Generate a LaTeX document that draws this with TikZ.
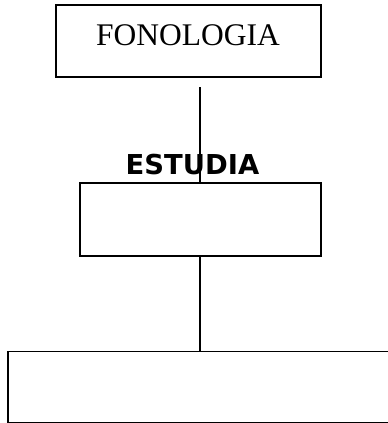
\documentclass[tikz,border=0pt]{standalone}
\usepackage{fontspec}
\setmainfont{Liberation Serif}
\newfontfamily\estfont{DejaVu Sans}
\begin{document}
\begin{tikzpicture}[x=1pt,y=-1pt,
  box/.style={draw,line width=1.8pt,rectangle,inner sep=0pt,outer sep=0pt},
  conn/.style={line width=1.8pt},
  lbl/.style={inner sep=0pt,outer sep=0pt,anchor=base}]
\useasboundingbox (0,0) rectangle (388,423);
\clip (0,0) rectangle (388,423);
\node[box,minimum width=265pt,minimum height=72pt] (a) at (188.5,41) {};
\node[lbl,font=\fontsize{31.5}{36}\selectfont] (fon) at (188,45.7) {FONOLOGIA};
\node[box,minimum width=241pt,minimum height=73pt] (b) at (200.5,219.5) {};
\node[box,minimum width=392pt,minimum height=71pt] (c) at (204,387) {};
\node[lbl,font=\estfont\bfseries\fontsize{27.4}{32}\selectfont] (est) at (192.5,174) {ESTUDIA};
\coordinate (s1) at (200,87);
\draw[conn] (s1) -- (b.north -| s1);
\draw[conn] (b.south -| s1) -- (c.north -| s1);
\end{tikzpicture}
\end{document}
